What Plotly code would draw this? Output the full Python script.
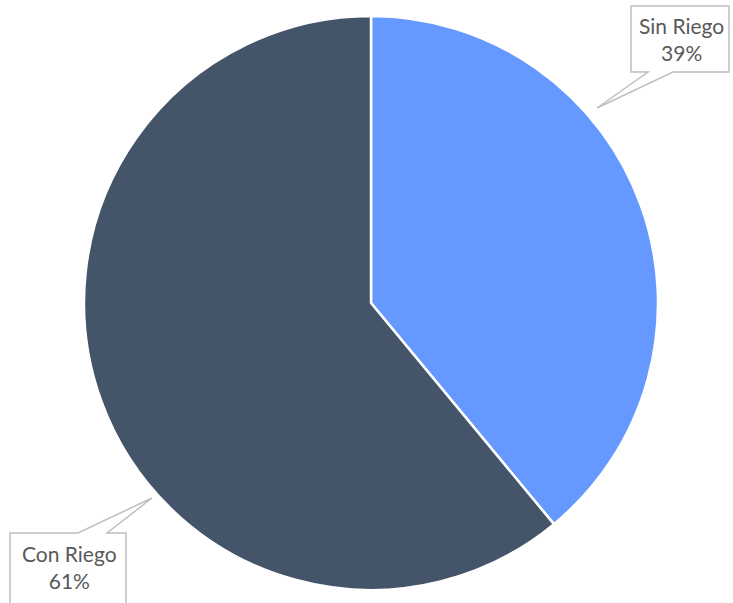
import plotly.graph_objects as go

labels = ["Sin Riego", "Con Riego"]
values = [39, 61]
colors = ["#6699FF", "#445469"]

W, H = 733, 603

def px(x, y):
    return x / W, 1 - y / H

def path(points):
    s = ""
    for i, (x, y) in enumerate(points):
        u, v = px(x, y)
        s += ("M" if i == 0 else "L") + f"{u:.5f},{v:.5f} "
    return s + "Z"

fig = go.Figure(go.Pie(
    labels=labels, values=values, sort=False, direction="clockwise", rotation=0,
    marker=dict(colors=colors, line=dict(color="white", width=2.5)),
    textinfo="none", hoverinfo="label+percent",
    domain=dict(x=[(371 - 287) / W, (371 + 287) / W], y=[(300 - 287) / H, (300 + 287) / H]),
))

callouts = [
    [(631, 6), (729, 6), (729, 72), (673, 72), (597, 108), (648, 72), (631, 72)],
    [(10, 533), (78, 533), (152, 498), (107, 533), (126, 533), (126, 606), (10, 606)],
]
for pts in callouts:
    fig.add_shape(type="path", path=path(pts), xref="paper", yref="paper",
                  line=dict(color="#BFBFBF", width=1.5), fillcolor="white", layer="above")

total = sum(values)
centers = [(681, 39), (69, 567)]
for lab, val, (cx, cy) in zip(labels, values, centers):
    u, v = px(cx, cy)
    fig.add_annotation(x=u, y=v, xref="paper", yref="paper", showarrow=False,
                       text=f"{lab}<br>{round(100 * val / total)}%",
                       font=dict(family="Lato, Carlito, sans-serif", size=21, color="#595959"),
                       align="center", xanchor="center", yanchor="middle")

fig.update_layout(width=W, height=H, margin=dict(l=0, r=0, t=0, b=0),
                  showlegend=False, paper_bgcolor="white", plot_bgcolor="white")
fig.write_html("out.html", config={"displayModeBar": False},
               post_script="document.body.style.margin='0';document.body.style.overflow='hidden';")
